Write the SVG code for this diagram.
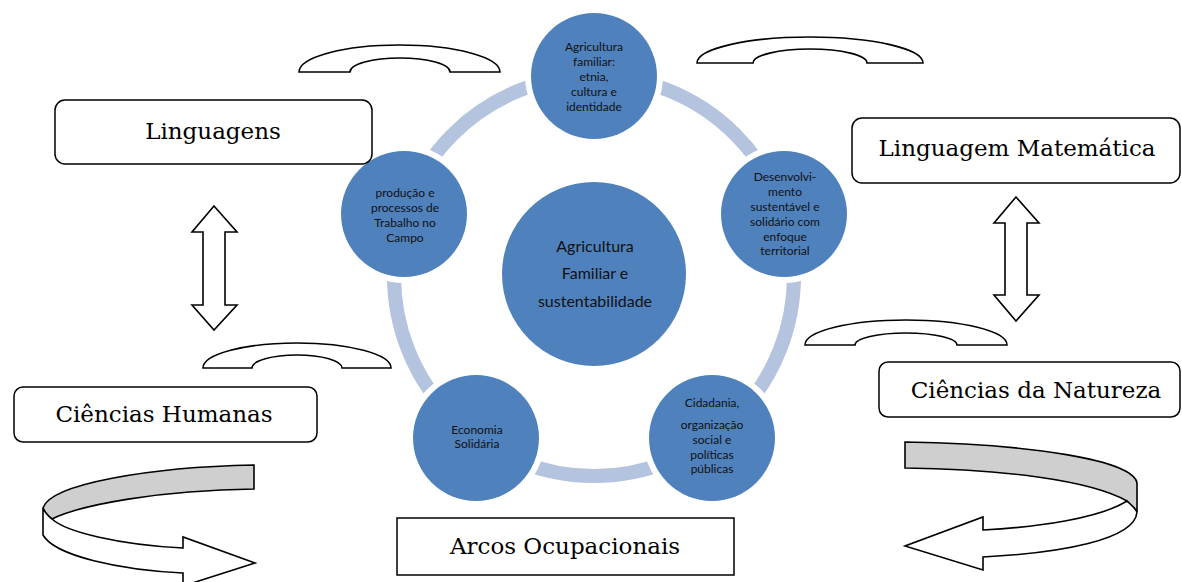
<svg xmlns="http://www.w3.org/2000/svg" width="1182" height="582" viewBox="0 0 1182 582">
<defs>
<style>
.box{fill:#fff;stroke:#000;stroke-width:1.5}
.bt{font-family:"DejaVu Serif","Liberation Serif",serif;font-size:23px;fill:#000;text-anchor:middle}
.sh{fill:#fff;stroke:#000;stroke-width:1.6;stroke-linejoin:miter}
.gr{fill:#cfcfcf;stroke:#000;stroke-width:1.6}
.gap{fill:#fff}
.node{fill:#4f81bd}
.ct{font-family:Lato,"Liberation Sans",sans-serif;font-size:12px;fill:#111;text-anchor:middle}
.cc{font-family:Lato,"Liberation Sans",sans-serif;font-size:16px;fill:#111;text-anchor:middle}
</style>
</defs>
<rect width="1182" height="582" fill="#fff"/>

<g id="connectors">
<circle cx="594" cy="276" r="200" fill="none" stroke="#b4c3de" stroke-width="14"/>
<path class="sh" d="M299,72 A100.5,27 0 0 1 500,72 L450,72 A50,14 0 0 0 350,72 Z"/>
<path class="sh" d="M697,63 A113,26 0 0 1 923,63 L867,63 A57,14 0 0 0 753,63 Z"/>
<path class="sh" d="M203,368 A94,25 0 0 1 391,368 L342,368 A45,13 0 0 0 252,368 Z"/>
<path class="sh" d="M805,345 A101,25 0 0 1 1007,345 L957,345 A51,12 0 0 0 855,345 Z"/>
<path class="sh" d="M214,206 L237,232 L225,232 L225,305 L237,305 L214,330 L192,305 L203,305 L203,232 L192,232 Z"/>
<path class="sh" d="M1016,197 L1039,223 L1027,223 L1027,295 L1039,295 L1016,321 L994,295 L1005,295 L1005,223 L994,223 Z"/>
<path class="gr" d="M254,465 C150,467 50,484 43,508 C45,513 48,516 52,519 C80,505 160,490 254,489 Z"/>
<path class="sh" d="M43,508 L43,535 C55,556 120,570 183,573 L183,586 L255,563 L183,537 L183,548 C120,545 66,532 52,519 C48,516 45,513 43,508 Z"/>
<path class="gr" d="M905,442 C1030,444 1133,460 1137,483 L1137,512 C1135,508 1130,504 1127,501 C1090,480 1000,469 905,468 Z"/>
<path class="sh" d="M1127,501 C1100,518 1040,527 983,530 L983,517 L905,546 L983,570 L983,557 C1060,553 1135,540 1137,512 C1135,508 1130,504 1127,501 Z"/>
</g>

<g id="n-center">
<circle class="node" cx="594" cy="274" r="92"/>
<text class="cc" x="595" y="252">Agricultura</text>
<text class="cc" x="595" y="279">Familiar e</text>
<text class="cc" x="595" y="307">sustentabilidade</text>
</g>

<g id="n-top">
<circle class="gap" cx="594" cy="76" r="69"/>
<circle class="node" cx="594" cy="76" r="63"/>
<text class="ct" x="594" y="51">Agricultura</text>
<text class="ct" x="594" y="66">familiar:</text>
<text class="ct" x="594" y="81">etnia,</text>
<text class="ct" x="594" y="96">cultura e</text>
<text class="ct" x="594" y="111">identidade</text>
</g>

<g id="n-right">
<circle class="gap" cx="784" cy="214" r="69"/>
<circle class="node" cx="784" cy="214" r="63"/>
<text class="ct" x="785" y="181">Desenvolvi-</text>
<text class="ct" x="785" y="196">mento</text>
<text class="ct" x="785" y="211">sustentável e</text>
<text class="ct" x="785" y="226">solidário com</text>
<text class="ct" x="785" y="241">enfoque</text>
<text class="ct" x="785" y="255">territorial</text>
</g>

<g id="n-bottomright">
<circle class="gap" cx="712" cy="438" r="69"/>
<circle class="node" cx="712" cy="438" r="63"/>
<text class="ct" x="712" y="407">Cidadania,</text>
<text class="ct" x="712" y="429">organização</text>
<text class="ct" x="712" y="444">social e</text>
<text class="ct" x="712" y="459">políticas</text>
<text class="ct" x="712" y="473">públicas</text>
</g>

<g id="n-bottomleft">
<circle class="gap" cx="476" cy="438" r="69"/>
<circle class="node" cx="476" cy="438" r="63"/>
<text class="ct" x="477" y="434">Economia</text>
<text class="ct" x="477" y="448">Solidária</text>
</g>

<g id="n-left">
<circle class="gap" cx="404" cy="214" r="69"/>
<circle class="node" cx="404" cy="214" r="63"/>
<text class="ct" x="405" y="197">produção e</text>
<text class="ct" x="405" y="212">processos de</text>
<text class="ct" x="405" y="227">Trabalho no</text>
<text class="ct" x="405" y="242">Campo</text>
</g>

<g id="b-linguagens">
<rect class="box" x="55" y="100" width="317" height="64" rx="10"/>
<text class="bt" x="213" y="139">Linguagens</text>
</g>
<g id="b-matematica">
<rect class="box" x="852" y="118" width="328" height="65" rx="10"/>
<text class="bt" x="1017" y="156">Linguagem Matemática</text>
</g>
<g id="b-natureza">
<rect class="box" x="879" y="362" width="301" height="55" rx="9"/>
<text class="bt" x="1036" y="398">Ciências da Natureza</text>
</g>
<g id="b-humanas">
<rect class="box" x="14" y="387" width="303" height="55" rx="9"/>
<text class="bt" x="164" y="422">Ciências Humanas</text>
</g>
<g id="b-arcos">
<rect class="box" x="397" y="518" width="337" height="57"/>
<text class="bt" x="565" y="554">Arcos Ocupacionais</text>
</g>
</svg>
